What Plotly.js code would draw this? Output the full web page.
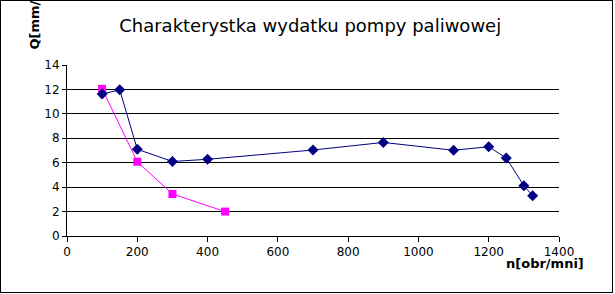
<!DOCTYPE html>
<html><head><meta charset="utf-8">
<script src="https://cdn.plot.ly/plotly-3.0.1.min.js"></script>
<style>
html,body{margin:0;padding:0;background:#fff;}
#wrap{position:relative;width:615px;height:294px;}
#chart{width:615px;height:294px;}
#frame{position:absolute;left:0;top:0;width:613px;height:293px;border:1px solid #000;box-sizing:border-box;pointer-events:none;}
</style></head>
<body>
<div id="wrap"><div id="chart"></div><div id="frame"></div></div>
<script>
const titleText = "Charakterystka wydatku pompy paliwowej";
const xTitle = "n[obr/mni]";
const yTitle = "Q[mm/obr]";
const blueX = [100, 150, 200, 300, 400, 700, 900, 1100, 1200, 1250, 1300, 1325];
const blueY = [11.62, 11.97, 7.1, 6.1, 6.28, 7.04, 7.66, 7.02, 7.31, 6.38, 4.12, 3.3];
const pinkX = [100, 200, 300, 450];
const pinkY = [12.05, 6.08, 3.44, 2.0];
const xTicks = [0, 200, 400, 600, 800, 1000, 1200, 1400];
const yTicks = [0, 2, 4, 6, 8, 10, 12, 14];

const font = "DejaVu Sans, sans-serif";
const traces = [
  {x: pinkX, y: pinkY, mode: 'lines+markers', type: 'scatter',
   line: {color: '#FF00FF', width: 1},
   marker: {symbol: 'square', size: 8, color: '#FF00FF'}},
  {x: blueX, y: blueY, mode: 'lines+markers', type: 'scatter',
   line: {color: '#000080', width: 1},
   marker: {symbol: 'diamond', size: 8.5, color: '#000080'}}
];
const layout = {
  width: 615, height: 294,
  margin: {l: 67, r: 56, t: 65, b: 58, pad: 0},
  paper_bgcolor: '#fff', plot_bgcolor: '#fff',
  showlegend: false,
  font: {family: font, size: 12, color: '#000'},
  title: {text: titleText, font: {family: font, size: 18, color: '#000'},
          x: 304 / 615, xref: 'paper', xanchor: 'center', y: 1 - 26/294, yanchor: 'middle'},
  xaxis: {range: [0, 1400], tickvals: xTicks, ticktext: xTicks.map(String),
          showline: true, linecolor: '#000', linewidth: 1, mirror: false,
          ticks: 'outside', ticklen: 5, tickcolor: '#000', tickwidth: 1,
          showgrid: false, zeroline: false, fixedrange: true,
          tickfont: {family: font, size: 12, color: '#000'}},
  yaxis: {range: [0, 14], tickvals: yTicks, ticktext: yTicks.map(String),
          showline: true, linecolor: '#000', linewidth: 1,
          ticks: 'outside', ticklen: 4, tickcolor: '#000', tickwidth: 1,
          showgrid: true, gridcolor: '#000', gridwidth: 1, zeroline: false, fixedrange: true,
          tickfont: {family: font, size: 12, color: '#000'}},
  annotations: [
    {text: '<b>' + xTitle + '</b>', xref: 'paper', yref: 'paper',
     x: (545 - 67) / 492, y: -(263 - 236) / 171, xanchor: 'center', yanchor: 'middle',
     showarrow: false, font: {family: font, size: 13, color: '#000'}},
    {text: '<b>' + yTitle + '</b>', xref: 'paper', yref: 'paper', textangle: -90,
     x: -(67 - 34) / 492, y: (236 - 52) / 171, xanchor: 'center', yanchor: 'bottom',
     showarrow: false, font: {family: font, size: 13, color: '#000'}}
  ]
};
Plotly.newPlot('chart', traces, layout, {displayModeBar: false, staticPlot: true});
</script>
</body></html>
